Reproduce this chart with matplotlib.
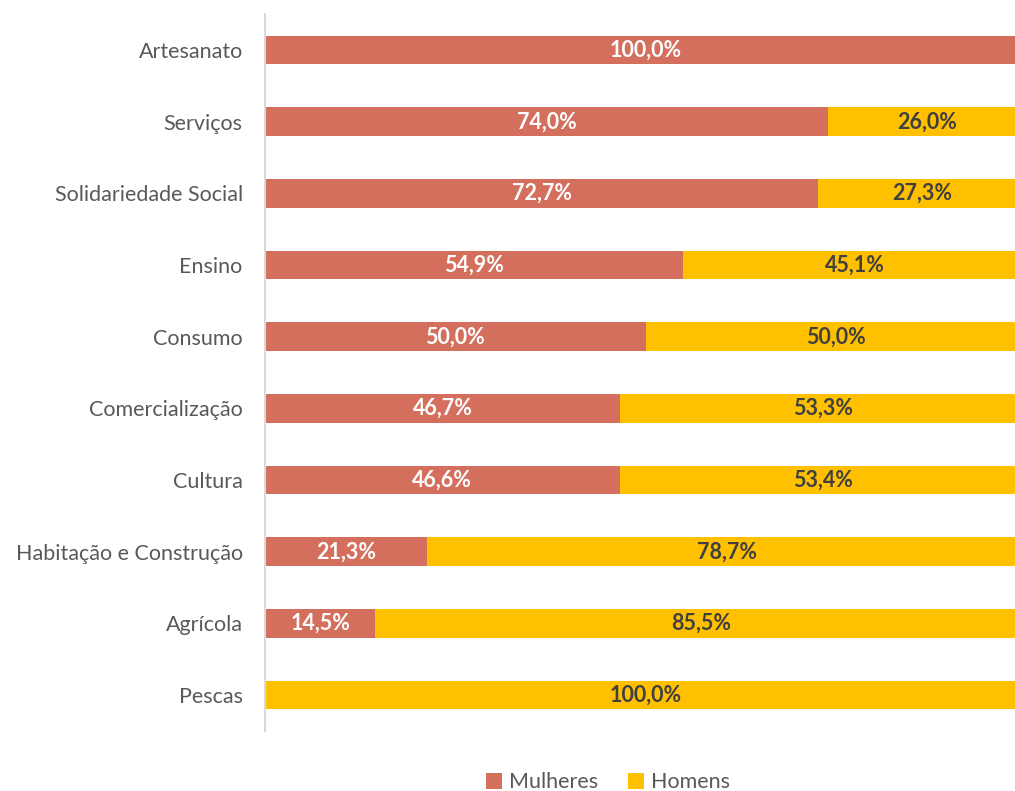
import matplotlib
import matplotlib.pyplot as plt
import numpy as np

matplotlib.use('Agg')
plt.rcParams['font.family'] = ['Lato', 'DejaVu Sans']

# categories from top to bottom
categories = ['Artesanato', 'Serviços', 'Solidariedade Social', 'Ensino', 'Consumo',
              'Comercialização', 'Cultura', 'Habitação e Construção', 'Agrícola', 'Pescas']
mulheres = [100.0, 74.0, 72.7, 54.9, 50.0, 46.7, 46.6, 21.3, 14.5, 0.0]
homens = [0.0, 26.0, 27.3, 45.1, 50.0, 53.3, 53.4, 78.7, 85.5, 100.0]

c_mul = '#D46F5E'
c_hom = '#FFC000'

fig = plt.figure(figsize=(10.15, 7.91), dpi=100)
# axes extend a little past the right edge of the figure, as in the original
ax = fig.add_axes([0.261, 0.076, 0.75, 0.906])

y = np.arange(len(categories))
bh = 0.4
ax.barh(y, mulheres, height=bh, color=c_mul, label='Mulheres')
ax.barh(y, homens, left=mulheres, height=bh, color=c_hom, label='Homens')

# labels inside the bars
for i in range(len(categories)):
    if mulheres[i] > 0:
        ax.text(mulheres[i] / 2, y[i], f'{mulheres[i]:.1f}%'.replace('.', ','),
                ha='center', va='center', color='white', fontsize=15.5, fontweight='bold')
    if homens[i] > 0:
        ax.text(mulheres[i] + homens[i] / 2, y[i], f'{homens[i]:.1f}%'.replace('.', ','),
                ha='center', va='center', color='#404040', fontsize=15.5, fontweight='bold')

ax.set_xlim(0, 100)
ax.set_ylim(len(categories) - 0.5, -0.5)
ax.set_yticks(y)
ax.set_yticklabels(categories, fontsize=15.5, color='#595959')
ax.set_xticks([])
ax.tick_params(axis='y', length=0, pad=16)
for s in ['top', 'right', 'bottom']:
    ax.spines[s].set_visible(False)
ax.spines['left'].set_color('#D9D9D9')
ax.spines['left'].set_linewidth(1.5)

fig.legend(loc='center', bbox_to_anchor=(0.599, 0.011), ncol=2, frameon=False,
           fontsize=15.5, handlelength=0.75, handleheight=0.75, columnspacing=1.4,
           handletextpad=0.3, labelcolor='#595959')

fig.savefig('out.png', dpi=100)
